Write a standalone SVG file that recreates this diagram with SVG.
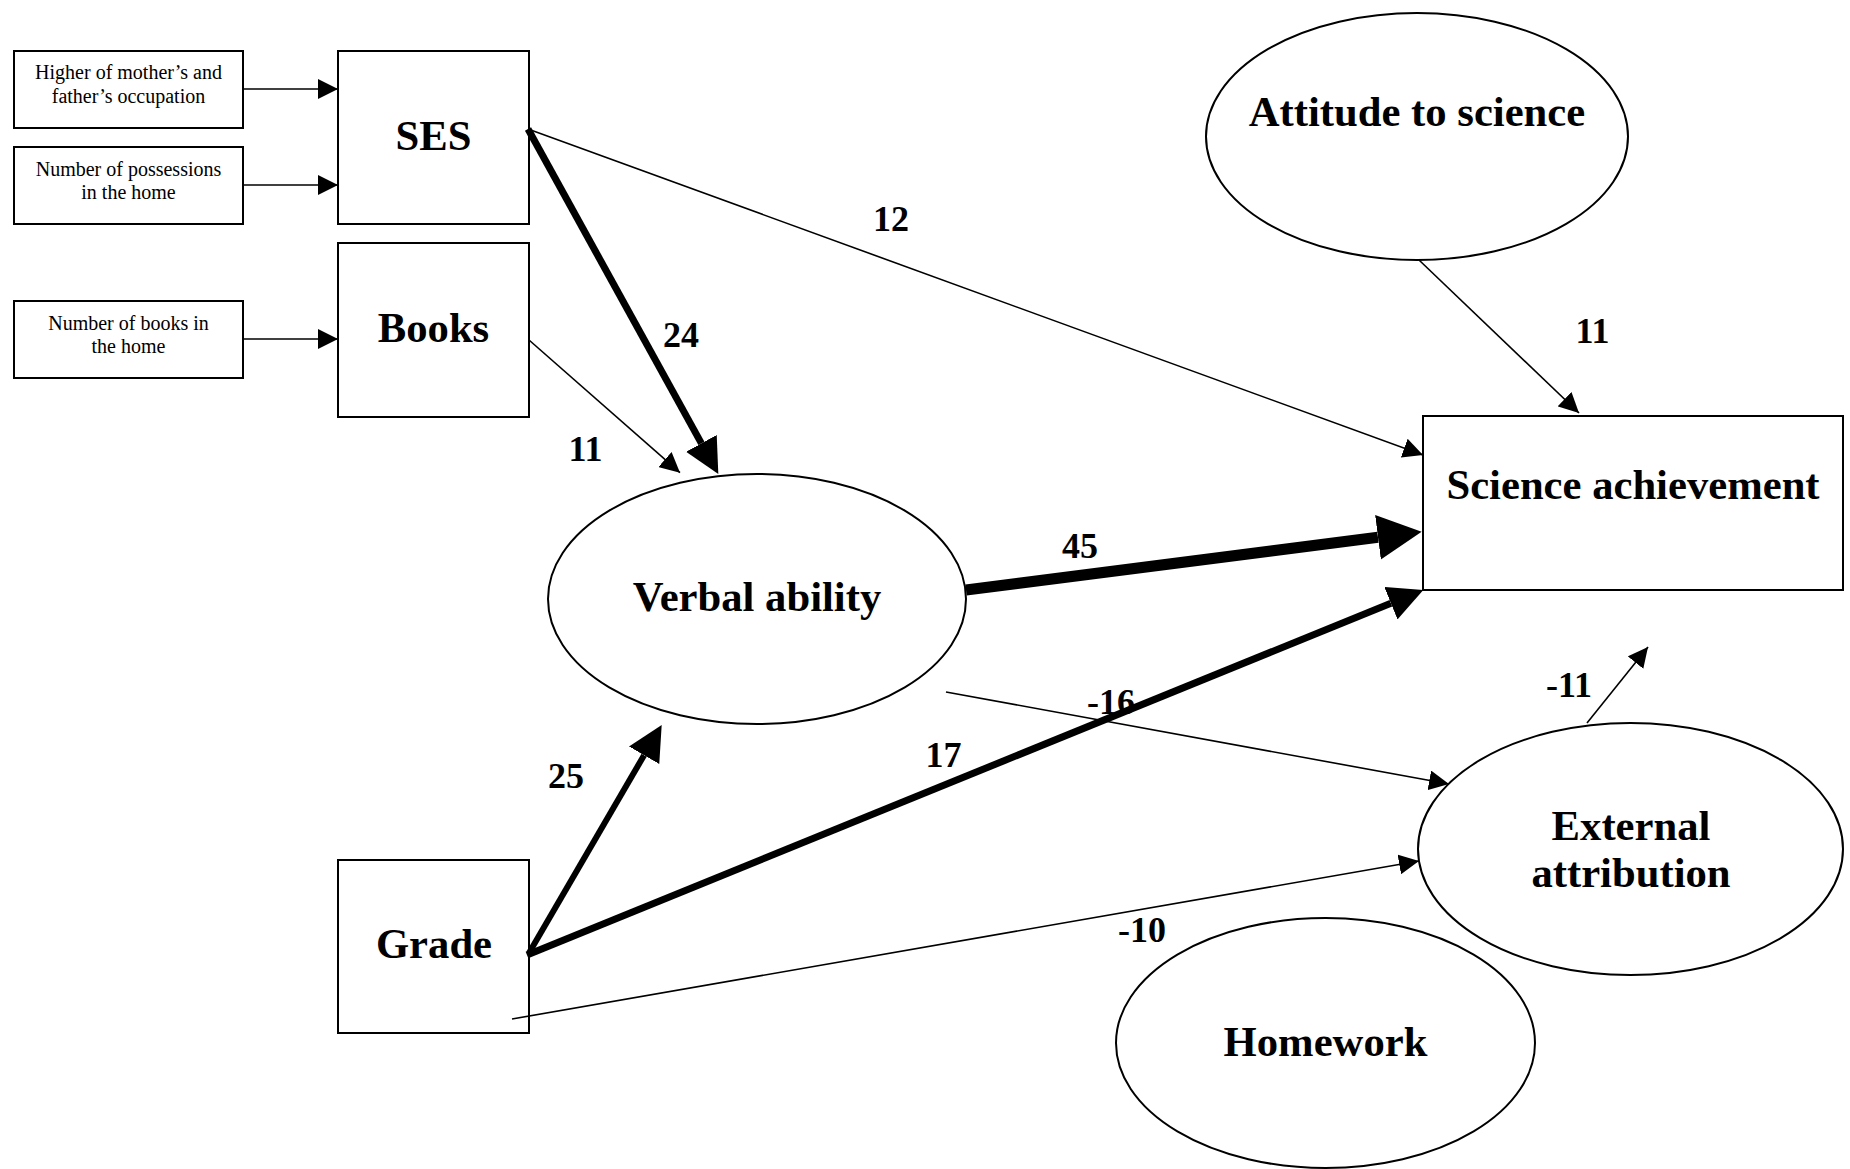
<svg xmlns="http://www.w3.org/2000/svg" width="1850" height="1169" viewBox="0 0 1850 1169">
<style>
.box{fill:#fff;stroke:#000;stroke-width:2}
.ell{fill:#fff;stroke:#000;stroke-width:2}
.thin{fill:none;stroke:#000;stroke-width:1.6}
.thick{fill:none;stroke:#000}
.node{font-family:"Liberation Serif","Times New Roman",serif;font-weight:bold;font-size:42.67px;text-anchor:middle;fill:#000}
.small{font-family:"Liberation Serif","Times New Roman",serif;font-size:20px;text-anchor:middle;fill:#000}
.lbl{font-family:"Liberation Serif","Times New Roman",serif;font-weight:bold;font-size:36px;text-anchor:middle;fill:#000}
</style>
<defs>
<marker id="ah" markerUnits="userSpaceOnUse" markerWidth="20" markerHeight="20" refX="20" refY="10" orient="auto">
<path d="M0,0 L20,10 L0,20 Z" fill="#000"/>
</marker>
<marker id="ahm" markerUnits="userSpaceOnUse" markerWidth="35" markerHeight="35" refX="0" refY="17.5" orient="auto">
<path d="M0,0 L35,17.5 L0,35 Z" fill="#000"/>
</marker>
<marker id="ahl" markerUnits="userSpaceOnUse" markerWidth="44" markerHeight="45" refX="0" refY="22.5" orient="auto">
<path d="M0,0 L44,22.5 L0,45 Z" fill="#000"/>
</marker>
</defs>
<rect width="1850" height="1169" fill="#fff"/>

<g id="occupation">
<rect class="box" x="14" y="51" width="229" height="77"/>
<text class="small" x="128.5" y="79.3">Higher of mother’s and</text>
<text class="small" x="128.5" y="103.3">father’s occupation</text>
</g>
<g id="possessions">
<rect class="box" x="14" y="147" width="229" height="77"/>
<text class="small" x="128.5" y="176">Number of possessions</text>
<text class="small" x="128.5" y="199.3">in the home</text>
</g>
<g id="booksHome">
<rect class="box" x="14" y="301" width="229" height="77"/>
<text class="small" x="128.5" y="330">Number of books in</text>
<text class="small" x="128.5" y="353.3">the home</text>
</g>
<g id="ses">
<rect class="box" x="338" y="51" width="191" height="173"/>
<text class="node" x="433.5" y="150">SES</text>
</g>
<g id="books">
<rect class="box" x="338" y="243" width="191" height="174"/>
<text class="node" x="433.5" y="341.7">Books</text>
</g>
<g id="grade">
<rect class="box" x="338" y="860" width="191" height="173"/>
<text class="node" x="434" y="958">Grade</text>
</g>
<g id="verbal">
<ellipse class="ell" cx="757" cy="599" rx="209" ry="125"/>
<text class="node" x="757" y="611">Verbal ability</text>
</g>
<g id="attitude">
<ellipse class="ell" cx="1417" cy="136.5" rx="211" ry="123.5"/>
<text class="node" x="1417" y="126">Attitude to science</text>
</g>
<g id="science">
<rect class="box" x="1423" y="416" width="420" height="174"/>
<text class="node" x="1633" y="499">Science achievement</text>
</g>
<g id="external">
<ellipse class="ell" cx="1630.5" cy="849" rx="212.5" ry="126"/>
<text class="node" x="1631" y="840">External</text>
<text class="node" x="1631" y="887">attribution</text>
</g>
<g id="homework">
<ellipse class="ell" cx="1325.5" cy="1043" rx="209.5" ry="125"/>
<text class="node" x="1325.5" y="1056">Homework</text>
</g>

<g id="connectors">
<line class="thin" x1="243" y1="89" x2="338" y2="89" marker-end="url(#ah)"/>
<line class="thin" x1="243" y1="185" x2="338" y2="185" marker-end="url(#ah)"/>
<line class="thin" x1="243" y1="339" x2="338" y2="339" marker-end="url(#ah)"/>
<line class="thick" stroke-width="7" x1="528" y1="129" x2="701.4" y2="443.4" marker-end="url(#ahm)"/>
<line class="thin" x1="528" y1="129" x2="1423" y2="455" marker-end="url(#ah)"/>
<line class="thin" x1="529" y1="340" x2="680" y2="472.7" marker-end="url(#ah)"/>
<line class="thick" stroke-width="11" x1="966" y1="590" x2="1378" y2="537.3" marker-end="url(#ahl)"/>
<line class="thick" stroke-width="7" x1="527" y1="955" x2="1390.9" y2="603.2" marker-end="url(#ahm)"/>
<line class="thick" stroke-width="6" x1="529" y1="953" x2="644.1" y2="755.2" marker-end="url(#ahm)"/>
<line class="thin" x1="1419" y1="260" x2="1579" y2="413" marker-end="url(#ah)"/>
<line class="thin" x1="1587" y1="723" x2="1648" y2="647" marker-end="url(#ah)"/>
<line class="thin" x1="946" y1="692" x2="1449" y2="784" marker-end="url(#ah)"/>
<line class="thin" x1="512" y1="1019" x2="1419" y2="861" marker-end="url(#ah)"/>
</g>

<g id="labels">
<text class="lbl" x="891" y="231">12</text>
<text class="lbl" x="681" y="347">24</text>
<text class="lbl" x="585.5" y="461">11</text>
<text class="lbl" x="1592.5" y="343">11</text>
<text class="lbl" x="1080" y="558">45</text>
<text class="lbl" x="1111" y="714">-16</text>
<text class="lbl" x="943.5" y="767">17</text>
<text class="lbl" x="566" y="788">25</text>
<text class="lbl" x="1142" y="942">-10</text>
<text class="lbl" x="1569" y="697">-11</text>
</g>
</svg>
